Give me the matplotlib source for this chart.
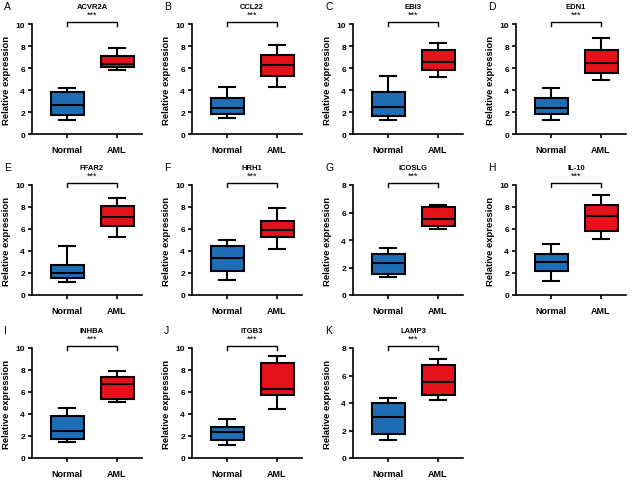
import matplotlib
matplotlib.use("Agg")
import matplotlib.pyplot as plt

plt.rcParams['font.family'] = ['Liberation Sans', 'DejaVu Sans']

genes = ['ACVR2A', 'CCL22', 'EBI3', 'EDN1', 'FFAR2', 'HRH1',
         'ICOSLG', 'IL-10', 'INHBA', 'ITGB3', 'LAMP3']
letters = ['A', 'B', 'C', 'D', 'E', 'F', 'G', 'H', 'I', 'J', 'K']
groups = ['Normal', 'AML']

# whislo, q1, median, q3, whishi
normal = [
    [1.3, 1.7, 2.65, 3.8, 4.2],
    [1.45, 1.85, 2.35, 3.3, 4.3],
    [1.3, 1.65, 2.5, 3.8, 5.25],
    [1.3, 1.8, 2.35, 3.3, 4.15],
    [1.2, 1.55, 2.0, 2.75, 4.5],
    [1.4, 2.15, 3.4, 4.5, 5.0],
    [1.3, 1.55, 2.35, 3.0, 3.45],
    [1.3, 2.2, 3.0, 3.75, 4.65],
    [1.45, 1.7, 2.45, 3.85, 4.55],
    [1.2, 1.65, 2.35, 2.8, 3.55],
    [1.3, 1.75, 3.0, 4.0, 4.4],
]
aml = [
    [5.85, 6.05, 6.35, 7.1, 7.85],
    [4.3, 5.3, 6.3, 7.2, 8.1],
    [5.2, 5.8, 6.55, 7.6, 8.25],
    [4.95, 5.55, 6.5, 7.65, 8.75],
    [5.3, 6.25, 7.1, 8.1, 8.85],
    [4.2, 5.25, 5.95, 6.75, 7.9],
    [4.8, 5.0, 5.5, 6.4, 6.55],
    [5.05, 5.8, 7.2, 8.15, 9.1],
    [5.05, 5.4, 6.7, 7.35, 7.9],
    [4.45, 5.7, 6.3, 8.6, 9.25],
    [4.2, 4.55, 5.55, 6.8, 7.2],
]
ymax = [10, 10, 10, 10, 10, 10, 8, 10, 10, 10, 8]

colors = ['#1f6db5', '#e5121b']

W, H = 640, 481
fig = plt.figure(figsize=(6.4, 4.81), dpi=100)

col_x = [32, 192, 353, 516]
row_top = [25, 186, 349]
ax_w, ax_h = 110, 110

def stats(v, label):
    return dict(whislo=v[0], q1=v[1], med=v[2], q3=v[3], whishi=v[4],
                label=label, fliers=[])

for i, gene in enumerate(genes):
    r, c = divmod(i, 4)
    x0 = col_x[c]
    y0 = row_top[r] + ax_h
    ax = fig.add_axes([x0 / W, 1 - y0 / H, ax_w / W, ax_h / H])
    bp = ax.bxp([stats(normal[i], groups[0]), stats(aml[i], groups[1])],
                positions=[1, 2], widths=0.66, patch_artist=True,
                showfliers=False,
                boxprops=dict(linewidth=1.5, edgecolor='black'),
                medianprops=dict(color='black', linewidth=1.5),
                whiskerprops=dict(color='black', linewidth=1.5),
                capprops=dict(color='black', linewidth=1.5),
                capwidths=0.32)
    for patch, col in zip(bp['boxes'], colors):
        patch.set_facecolor(col)
    top = ymax[i]
    ax.set_xlim(0.3, 2.5)
    ax.set_ylim(0, top)
    ax.set_yticks(range(0, top + 1, 2))
    ax.spines['top'].set_visible(False)
    ax.spines['right'].set_visible(False)
    ax.spines['left'].set_linewidth(1.2)
    ax.spines['bottom'].set_linewidth(1.2)
    ax.tick_params(width=1.2, length=3, pad=2)
    for lab in ax.get_yticklabels():
        lab.set_fontsize(6)
        lab.set_fontweight('bold')
    for lab in ax.get_xticklabels():
        lab.set_fontsize(6.5)
        lab.set_fontweight('bold')
    ax.tick_params(axis='x', pad=5)
    ax.set_ylabel('Relative expression', fontsize=6.8, fontweight='bold')
    ax.yaxis.set_label_coords(-0.195, 0.5)
    # significance bracket
    step = top / 10
    ax.plot([1, 1, 2, 2], [top - 0.2 * step, top + 0.2 * step, top + 0.2 * step, top - 0.2 * step],
            color='black', linewidth=1.0, clip_on=False)
    ax.text(1.5, top + 0.9 * step, '***', ha='center', va='center', fontsize=6.5)
    ax.text(1.5, top + 1.6 * step, gene, ha='center', va='center', fontsize=5.5,
            fontweight='bold')
    fig.text((x0 - 28) / W, 1 - (row_top[r] - 18) / H, letters[i], fontsize=7.5,
             va='center', ha='left')

fig.savefig('out.png', dpi=100)
